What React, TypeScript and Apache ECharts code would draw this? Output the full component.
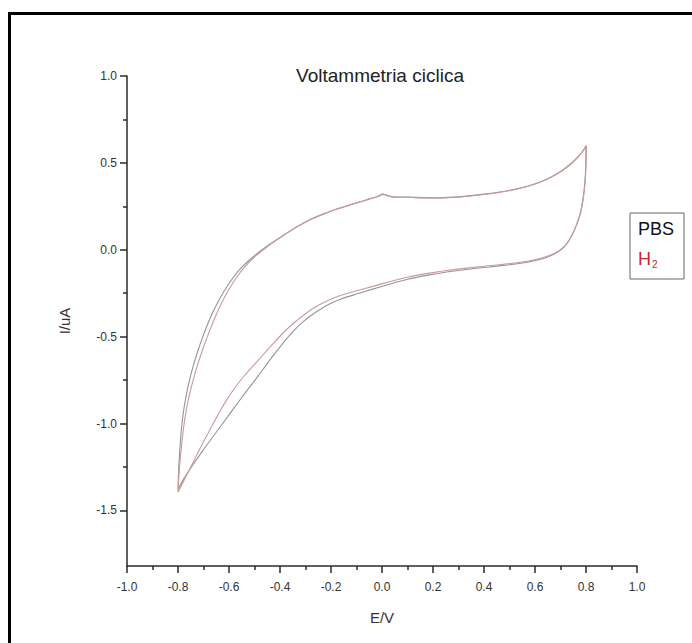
import React, { useEffect, useRef } from "react";
import * as echarts from "echarts";

const titleText = "Voltammetria ciclica";
const xName = "E/V";
const yName = "I/uA";
const seriesNames = ["PBS", "H2"];
const seriesColors = ["#959595", "#cc9999"];
const yMajor = [-1.5, -1.0, -0.5, 0.0, 0.5, 1.0];
const yMinor = [-1.25, -0.75, -0.25, 0.25, 0.75];

const pbsUpper: number[][] = [
  [-0.800, -1.380], [-0.797, -1.250], [-0.791, -1.110], [-0.782, -0.970], [-0.768, -0.840],
  [-0.748, -0.710], [-0.724, -0.590], [-0.700, -0.490], [-0.670, -0.380], [-0.636, -0.280],
  [-0.598, -0.190], [-0.556, -0.110], [-0.505, -0.040], [-0.450, 0.022], [-0.392, 0.078],
  [-0.333, 0.132], [-0.280, 0.174], [-0.228, 0.206], [-0.177, 0.234], [-0.128, 0.257],
  [-0.080, 0.278], [-0.040, 0.296], [-0.012, 0.310], [0.004, 0.318], [0.022, 0.310],
  [0.050, 0.304], [0.100, 0.303], [0.160, 0.300], [0.220, 0.299], [0.280, 0.303],
  [0.340, 0.310], [0.400, 0.320], [0.460, 0.332], [0.520, 0.348], [0.570, 0.366],
  [0.620, 0.390], [0.665, 0.420], [0.705, 0.455], [0.740, 0.495], [0.768, 0.535],
  [0.788, 0.570], [0.800, 0.600],
];
const pbsLower: number[][] = [
  [0.799, 0.480], [0.795, 0.380], [0.789, 0.300], [0.779, 0.220], [0.764, 0.150],
  [0.742, 0.075], [0.714, 0.015], [0.676, -0.025], [0.630, -0.052], [0.570, -0.072],
  [0.500, -0.086], [0.420, -0.099], [0.340, -0.112], [0.260, -0.127], [0.180, -0.146],
  [0.100, -0.170], [0.030, -0.198], [-0.040, -0.228], [-0.100, -0.255], [-0.160, -0.283],
  [-0.210, -0.315], [-0.260, -0.360], [-0.310, -0.415], [-0.355, -0.480], [-0.395, -0.550],
  [-0.435, -0.625], [-0.470, -0.695], [-0.503, -0.760], [-0.550, -0.850], [-0.600, -0.950],
  [-0.650, -1.050], [-0.700, -1.150], [-0.752, -1.260], [-0.778, -1.320], [-0.800, -1.380],
];
const h2Upper: number[][] = [
  [-0.800, -1.395], [-0.794, -1.250], [-0.785, -1.110], [-0.773, -0.970], [-0.756, -0.840],
  [-0.733, -0.710], [-0.707, -0.590], [-0.682, -0.490], [-0.652, -0.380], [-0.620, -0.280],
  [-0.584, -0.190], [-0.545, -0.110], [-0.498, -0.040], [-0.446, 0.022], [-0.390, 0.079],
  [-0.333, 0.133], [-0.280, 0.176], [-0.228, 0.208], [-0.177, 0.235], [-0.128, 0.258],
  [-0.080, 0.279], [-0.040, 0.297], [-0.015, 0.306], [0.000, 0.322], [0.020, 0.314],
  [0.040, 0.303], [0.100, 0.302], [0.160, 0.298], [0.220, 0.297], [0.280, 0.301],
  [0.340, 0.308], [0.400, 0.318], [0.460, 0.330], [0.520, 0.346], [0.570, 0.364],
  [0.620, 0.388], [0.665, 0.418], [0.705, 0.453], [0.740, 0.492], [0.768, 0.532],
  [0.788, 0.568], [0.802, 0.595],
];
const h2Lower: number[][] = [
  [0.800, 0.480], [0.796, 0.380], [0.790, 0.300], [0.780, 0.220], [0.765, 0.150],
  [0.743, 0.078], [0.715, 0.020], [0.677, -0.020], [0.630, -0.046], [0.570, -0.066],
  [0.500, -0.080], [0.420, -0.092], [0.340, -0.104], [0.260, -0.118], [0.180, -0.136],
  [0.100, -0.158], [0.030, -0.184], [-0.040, -0.212], [-0.100, -0.236], [-0.160, -0.262],
  [-0.210, -0.290], [-0.260, -0.328], [-0.300, -0.368], [-0.345, -0.420], [-0.390, -0.482],
  [-0.430, -0.545], [-0.470, -0.610], [-0.505, -0.668], [-0.540, -0.725], [-0.580, -0.800],
  [-0.620, -0.890], [-0.660, -0.995], [-0.700, -1.105], [-0.738, -1.215], [-0.772, -1.315],
  [-0.800, -1.395],
];

const FONT = 'Arial, "Liberation Sans", sans-serif';
const AX = "#2a2a2a";

export default function App() {
  const ref = useRef<HTMLDivElement>(null);
  useEffect(() => {
    if (!ref.current) return;
    const chart = echarts.init(ref.current, undefined, { renderer: "svg" });
    const loops = [pbsUpper.concat(pbsLower), h2Upper.concat(h2Lower)];
    chart.setOption({
      animation: false,
      backgroundColor: "#fff",
      title: {
        text: titleText,
        left: 380,
        textAlign: "center",
        top: 66,
        padding: 0,
        textStyle: { fontFamily: FONT, fontSize: 19, fontWeight: "normal", color: "#222" },
      },
      legend: {
        orient: "vertical",
        left: 630,
        top: 213,
        itemWidth: 0,
        itemHeight: 0,
        itemGap: 12,
        padding: [7, 10, 10, 3],
        borderColor: "#666",
        borderWidth: 1,
        data: [
          { name: seriesNames[0], icon: "none" },
          { name: seriesNames[1], icon: "none" },
        ],
        formatter: (n: string) => (n === "H2" ? "{h|H}{s|2}" : "{p|" + n + "}"),
        textStyle: {
          fontFamily: FONT,
          fontSize: 18,
          rich: {
            p: { fontFamily: FONT, fontSize: 18, color: "#111", lineHeight: 20 },
            h: { fontFamily: FONT, fontSize: 18, color: "#c4262b", lineHeight: 20 },
            s: { fontFamily: FONT, fontSize: 10, color: "#c4262b", verticalAlign: "bottom", lineHeight: 14, padding: [9, 0, 0, 1] },
          },
        },
      },
      grid: { left: 127, right: 55, top: 76, bottom: 77, containLabel: false },
      xAxis: {
        type: "value",
        min: -1,
        max: 1,
        interval: 0.2,
        name: xName,
        nameLocation: "middle",
        nameGap: 44,
        nameTextStyle: { fontFamily: FONT, fontSize: 15, color: "#333" },
        axisLine: { show: true, onZero: false, lineStyle: { color: AX, width: 1.5 } },
        axisTick: { show: true, length: 7, lineStyle: { color: AX, width: 1.5 } },
        minorTick: { show: true, splitNumber: 2, length: 4, lineStyle: { color: AX, width: 1.5 } },
        axisLabel: {
          formatter: (v: number) => v.toFixed(1),
          margin: 15,
          fontFamily: FONT,
          fontSize: 12,
          color: "#333",
        },
        splitLine: { show: false },
        minorSplitLine: { show: false },
      },
      yAxis: [
        {
          type: "value",
          min: -1.82,
          max: 1.0,
          name: yName,
          nameLocation: "middle",
          nameGap: 55,
          nameTextStyle: { fontFamily: FONT, fontSize: 15, color: "#333" },
          axisLine: { show: true, onZero: false, lineStyle: { color: AX, width: 1.5 } },
          axisTick: { show: true, length: 7, customValues: yMajor, lineStyle: { color: AX, width: 1.5 } },
          axisLabel: {
            customValues: yMajor,
            formatter: (v: number) => v.toFixed(1),
            margin: 10,
            fontFamily: FONT,
            fontSize: 12,
            color: "#333",
          },
          splitLine: { show: false },
        },
        {
          type: "value",
          min: -1.82,
          max: 1.0,
          position: "left",
          offset: 0,
          axisLine: { show: false, onZero: false },
          axisTick: { show: true, length: 4, customValues: yMinor, lineStyle: { color: AX, width: 1.5 } },
          axisLabel: { show: false },
          splitLine: { show: false },
        },
      ],
      graphic: [
        { type: "rect", shape: { x: 8, y: 12, width: 3, height: 640 }, style: { fill: "#000" }, silent: true },
        { type: "rect", shape: { x: 8, y: 12, width: 700, height: 3 }, style: { fill: "#000" }, silent: true },
      ],
      series: loops.map((d, i) => ({
        name: seriesNames[i],
        type: "line",
        data: d,
        showSymbol: false,
        symbol: "none",
        smooth: 0.2,
        lineStyle: { color: seriesColors[i], width: 1.1 },
        itemStyle: { color: seriesColors[i] },
        z: 2 + i,
      })),
    });
    return () => chart.dispose();
  }, []);
  return (
    <div
      ref={ref}
      style={{ position: "absolute", left: 0, top: 0, width: 692, height: 643, background: "#fff" }}
    />
  );
}
